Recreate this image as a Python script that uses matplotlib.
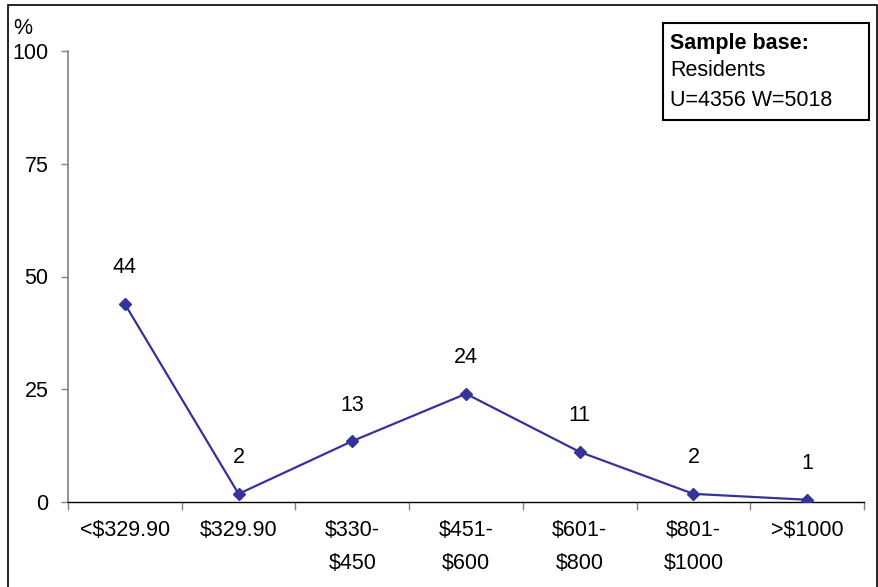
import matplotlib
matplotlib.use("Agg")
import matplotlib.pyplot as plt
from matplotlib.patches import Rectangle

categories = ["<$329.90", "$329.90", "$330-\n$450", "$451-\n$600", "$601-\n$800", "$801-\n$1000", ">$1000"]
values = [43.9, 1.8, 13.5, 24.0, 11.1, 1.8, 0.5]
value_labels = ["44", "2", "13", "24", "11", "2", "1"]
y_ticks = [0, 25, 50, 75, 100]

plt.rcParams['font.family'] = ['Liberation Sans', 'DejaVu Sans']
FS = 15.5
W, H = 879, 587
fig = plt.figure(figsize=(W / 100, H / 100), dpi=100)
ax = fig.add_axes([68 / W, (H - 502) / H, (864 - 68) / W, (502 - 51) / H])

xs = list(range(len(categories)))
ax.plot(xs, values, color="#333399", lw=1.6, marker="D", ms=6.5, mfc="#333399", mec="#333399", zorder=3)
for x, v, t in zip(xs, values, value_labels):
    ax.annotate(t, (x, v), xytext=(0, 26), textcoords="offset points", ha="center", va="center", fontsize=FS)

ax.set_xlim(-0.5, len(categories) - 0.5)
ax.set_ylim(0, 100)
ax.set_yticks(y_ticks)
ax.set_yticklabels([str(t) for t in y_ticks], fontsize=FS)
ax.tick_params(axis="y", length=5, width=1, color="#808080", pad=9)

ax.set_xticks([i + 0.5 for i in range(-1, len(categories))])
ax.set_xticklabels([])
ax.tick_params(axis="x", which="major", length=6, width=1, color="#808080", direction="out")
ax.set_xticks(xs, minor=True)
ax.set_xticklabels(categories, minor=True, fontsize=FS, linespacing=1.75, va="top")
ax.tick_params(axis="x", which="minor", length=0, pad=13)

for s in ["top", "right"]:
    ax.spines[s].set_visible(False)
ax.spines["left"].set_color("#808080")
ax.spines["left"].set_linewidth(1.2)
ax.spines["bottom"].set_color("black")
ax.spines["bottom"].set_linewidth(1.0)

fig.text(13 / W, 1 - 28 / H, "%", fontsize=FS, ha="left", va="center")

# figure border (bottom edge falls outside the image)
fig.patches.append(Rectangle((8 / W, -0.02), (877 - 8) / W, 0.02 + (H - 5) / H, transform=fig.transFigure,
                             fill=False, edgecolor="black", lw=1.2))
# sample base box
fig.patches.append(Rectangle((663 / W, 1 - 120 / H), (869 - 663) / W, (120 - 23) / H,
                             transform=fig.transFigure, fill=False, edgecolor="black", lw=1.5))
fig.text(670 / W, 1 - 43 / H, "Sample base:", fontsize=FS, fontweight="bold", ha="left", va="center")
fig.text(670 / W, 1 - 70 / H, "Residents", fontsize=FS, ha="left", va="center")
fig.text(670 / W, 1 - 100 / H, "U=4356 W=5018", fontsize=FS, ha="left", va="center")

fig.savefig("out.png", dpi=100)
